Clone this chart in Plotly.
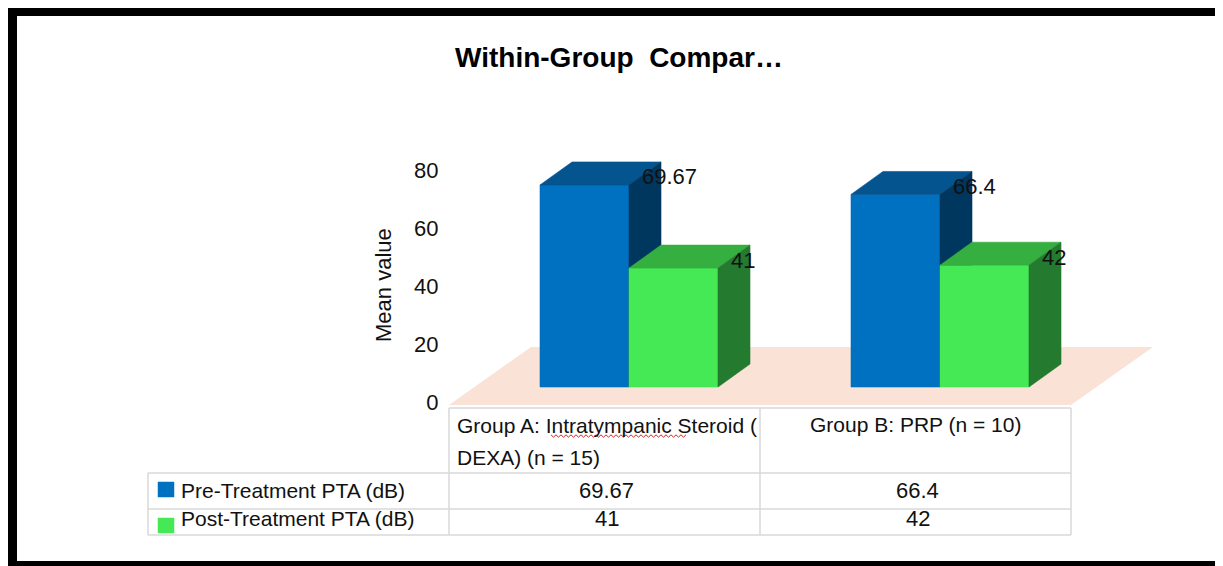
import plotly.graph_objects as go

# ---------------- data ----------------
categories = ["Group A: Intratympanic Steroid ( DEXA) (n = 15)", "Group B: PRP (n = 10)"]
header_lines = [["Group A: Intratympanic Steroid (", "DEXA) (n = 15)"], ["Group B: PRP (n = 10)"]]
series_names = ["Pre-Treatment PTA (dB)", "Post-Treatment PTA (dB)"]
pre_values = [69.67, 66.4]
post_values = [41, 42]
pre_labels = ["69.67", "66.4"]
post_labels = ["41", "42"]
y_ticks = [0, 20, 40, 60, 80]
chart_title = "Within-Group\u00a0 Compar…"
y_title = "Mean value"

series_values = [pre_values, post_values]
series_labels = [pre_labels, post_labels]

# ---------------- style ----------------
PAGE_OFF = 8          # default body margin of the html page
W, H = 1223 - PAGE_OFF, 566 - PAGE_OFF
FONT = "Liberation Sans, Arial, sans-serif"
front_colors = ["#0070C0", "#45E855"]
top_colors = ["#04548F", "#34AF40"]
side_colors = ["#00375F", "#247A2E"]
floor_color = "#FAE3D6"
grid_color = "#D9D9D9"

CAT_PX = 311.0      # pixels per category
CAT0_PX = 604.5 - PAGE_OFF   # figure pixel x of first category centre
VAL_PX = 2.9        # pixels per value unit
ZERO_PY = 402.0 - PAGE_OFF   # figure pixel y of value 0 on axis

BAR_W = 89 / CAT_PX
BAR_OFF = -64.5 / CAT_PX
DX = 32 / CAT_PX
DY = 23 / VAL_PX
BASE = 15 / VAL_PX


def px(x):
    # screen pixel -> paper
    return (x - PAGE_OFF) / W


def py(y):
    return 1 - (y - PAGE_OFF) / H


fig = go.Figure()

# 3D bar faces, built from the values
for s, vals in enumerate(series_values):
    fx, fy, tx, ty, sx, sy = [], [], [], [], [], []
    for i, v in enumerate(vals):
        x0 = i + BAR_OFF + s * BAR_W
        x1 = x0 + BAR_W
        y0 = BASE
        y1 = BASE + v
        fx += [x0, x1, x1, x0, x0, None]
        fy += [y0, y0, y1, y1, y0, None]
        tx += [x0, x1, x1 + DX, x0 + DX, x0, None]
        ty += [y1, y1, y1 + DY, y1 + DY, y1, None]
        sx += [x1, x1 + DX, x1 + DX, x1, x1, None]
        sy += [y0, y0 + DY, y1 + DY, y1, y0, None]
    for xs, ys, col in [(fx, fy, front_colors[s]), (tx, ty, top_colors[s]), (sx, sy, side_colors[s])]:
        fig.add_trace(go.Scatter(
            x=xs, y=ys, mode="lines", fill="toself", fillcolor=col,
            line=dict(width=0.6, color=col), hoverinfo="skip", showlegend=False,
            name=series_names[s]))

# data labels
annotations = []
for s, vals in enumerate(series_values):
    for i, v in enumerate(vals):
        x1 = i + BAR_OFF + (s + 1) * BAR_W
        annotations.append(dict(
            x=x1 + 11 / CAT_PX, y=BASE + v + 8 / VAL_PX, xref="x", yref="y",
            text=series_labels[s][i], showarrow=False, xanchor="left", yanchor="middle",
            font=dict(family=FONT, size=22, color="#111111")))

# title & axis title
annotations.append(dict(x=px(619), y=py(57), xref="paper", yref="paper", text="<b>" + chart_title + "</b>",
                        showarrow=False, xanchor="center", yanchor="middle",
                        font=dict(family=FONT, size=28, color="#000000")))
annotations.append(dict(x=px(383), y=py(285), xref="paper", yref="paper", text=y_title, textangle=-90,
                        showarrow=False, xanchor="center", yanchor="middle",
                        font=dict(family=FONT, size=22, color="#111111")))

# table texts
col_left = [449, 760]
col_right = [760, 1071]
annotations.append(dict(x=px(455), y=py(425), xref="paper", yref="paper", text=header_lines[0][0],
                        showarrow=False, xanchor="left", yanchor="middle",
                        font=dict(family=FONT, size=21, color="#111111")))
annotations.append(dict(x=px(455), y=py(457), xref="paper", yref="paper", text=header_lines[0][1],
                        showarrow=False, xanchor="left", yanchor="middle",
                        font=dict(family=FONT, size=21, color="#111111")))
annotations.append(dict(x=px((col_left[1] + col_right[1]) / 2), y=py(424), xref="paper", yref="paper",
                        text=header_lines[1][0], showarrow=False, xanchor="center", yanchor="middle",
                        font=dict(family=FONT, size=21, color="#111111")))
row_y = [490, 518]
for s in range(2):
    annotations.append(dict(x=px(179), y=py(row_y[s]), xref="paper", yref="paper", text=series_names[s],
                            showarrow=False, xanchor="left", yanchor="middle",
                            font=dict(family=FONT, size=21, color="#111111")))
    for i in range(2):
        annotations.append(dict(x=px((col_left[i] + col_right[i]) / 2 + 2), y=py(row_y[s]), xref="paper",
                                yref="paper", text=series_labels[s][i], showarrow=False,
                                xanchor="center", yanchor="middle",
                                font=dict(family=FONT, size=22, color="#111111")))

shapes = []
# frame
shapes.append(dict(type="rect", xref="paper", yref="paper", x0=px(7), x1=px(1230), y0=py(570), y1=py(6),
                   fillcolor="#000000", line=dict(width=0), layer="below"))
shapes.append(dict(type="rect", xref="paper", yref="paper", x0=px(17), x1=px(1216), y0=py(561), y1=py(16),
                   fillcolor="#FFFFFF", line=dict(width=0), layer="below"))
# floor
FL_FRONT = -1.0
FL_BACK = 19.0
FL_SHIFT = 82 / CAT_PX
floor_path = "M {a},{b} L {c},{b} L {d},{e} L {f},{e} Z".format(
    a=-0.5, b=FL_FRONT, c=1.5, d=1.5 + FL_SHIFT, e=FL_BACK, f=-0.5 + FL_SHIFT)
shapes.append(dict(type="path", xref="x", yref="y", path=floor_path, fillcolor=floor_color,
                   line=dict(width=0), layer="below"))


# table grid
def hline(x0, x1, y):
    shapes.append(dict(type="line", xref="paper", yref="paper", x0=px(x0), x1=px(x1), y0=py(y), y1=py(y),
                       line=dict(color=grid_color, width=1.5)))


def vline(x, y0, y1):
    shapes.append(dict(type="line", xref="paper", yref="paper", x0=px(x), x1=px(x), y0=py(y0), y1=py(y1),
                       line=dict(color=grid_color, width=1.5)))


hline(449, 1071, 408)
hline(148, 1071, 473)
hline(148, 1071, 509)
hline(148, 1071, 535)
vline(449, 408, 535)
vline(760, 408, 535)
vline(1071, 408, 535)
vline(148, 473, 535)

# legend keys
key_y = [(482, 497), (518, 533)]
for s in range(2):
    shapes.append(dict(type="rect", xref="paper", yref="paper", x0=px(158), x1=px(174),
                       y0=py(key_y[s][1]), y1=py(key_y[s][0]), fillcolor=front_colors[s],
                       line=dict(color=front_colors[s], width=0.5)))

# spell-check squiggle
zz = []
xx = 551.0
k = 0
while xx <= 686:
    zz.append("{} {},{}".format("M" if k == 0 else "L", px(xx), py(436 + (1.2 if k % 2 else -1.2))))
    xx += 2.5
    k += 1
shapes.append(dict(type="path", xref="paper", yref="paper", path=" ".join(zz),
                   line=dict(color="#E02020", width=1)))

fig.update_layout(
    width=W, height=H,
    margin=dict(l=0, r=0, t=0, b=0),
    paper_bgcolor="#FFFFFF", plot_bgcolor="rgba(0,0,0,0)",
    showlegend=False,
    xaxis=dict(domain=[0, 1], range=[-CAT0_PX / CAT_PX, (W - CAT0_PX) / CAT_PX], visible=False, fixedrange=True),
    yaxis=dict(domain=[0, 1], range=[(ZERO_PY - H) / VAL_PX, ZERO_PY / VAL_PX], anchor="free",
               position=px(449), tickvals=y_ticks, ticktext=[str(t) for t in y_ticks],
               showgrid=False, zeroline=False, showline=False, ticks="outside", ticklen=6,
               tickcolor="rgba(0,0,0,0)", tickfont=dict(family=FONT, size=22, color="#111111"),
               fixedrange=True),
    annotations=annotations,
    shapes=shapes,
)

fig.write_html("out.html", config={"displayModeBar": False})
